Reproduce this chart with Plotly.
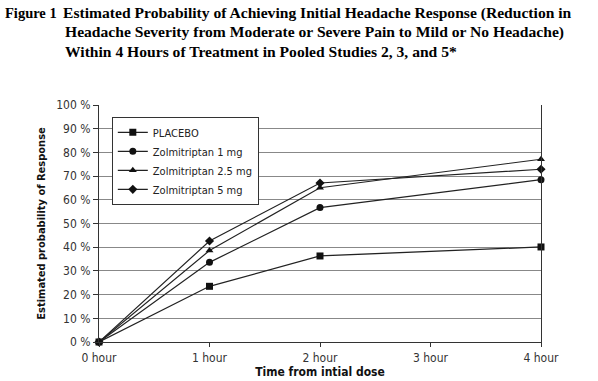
import plotly.graph_objects as go

hours = [0, 1, 2, 4]
tick_vals = [0, 1, 2, 3, 4]
tick_text = ["0 hour", "1 hour", "2 hour", "3 hour", "4 hour"]

placebo = [0, 23.5, 36.3, 40.1]
zolmi_1 = [0, 33.6, 56.7, 68.5]
zolmi_25 = [0, 38.6, 65.1, 77.1]
zolmi_5 = [0, 42.6, 67.1, 72.9]

series = [
    ("PLACEBO", placebo, "square"),
    ("Zolmitriptan 1 mg", zolmi_1, "circle"),
    ("Zolmitriptan 2.5 mg", zolmi_25, "triangle-up"),
    ("Zolmitriptan 5 mg", zolmi_5, "diamond"),
]

FONT = "Liberation Sans Narrow, Arial Narrow, DejaVu Sans Condensed, sans-serif"

fig = go.Figure()
for name, vals, sym in series:
    fig.add_trace(go.Scatter(
        x=hours, y=vals, name=name, mode="lines+markers",
        line=dict(color="#222222", width=1.2),
        marker=dict(symbol=sym, size=7, color="#111111"),
        cliponaxis=False,
    ))

ML, MR, MT, MB = 99, 57, 105, 39
fig.update_layout(
    width=598, height=381,
    margin=dict(l=ML, r=MR, t=MT, b=MB, autoexpand=False),
    paper_bgcolor="white", plot_bgcolor="white",
    font=dict(family=FONT, size=12, color="#222222"),
    showlegend=True,
    legend=dict(
        x=0.029, y=0.95, xanchor="left", yanchor="top",
        bgcolor="white", bordercolor="#333333", borderwidth=1,
        font=dict(family=FONT, size=11, color="#222222"),
        tracegroupgap=0,
    ),
    xaxis=dict(
        range=[0, 4], tickvals=tick_vals, ticktext=tick_text,
        showgrid=False, zeroline=False, automargin=False,
        showline=True, linecolor="#333333", linewidth=1.2,
        ticks="outside", ticklen=4, tickcolor="#333333",
        tickfont=dict(family=FONT, size=12, color="#333333"),
        title=dict(text="<b>Time from intial dose</b>", standoff=4,
                   font=dict(family=FONT, size=12, color="#111111")),
    ),
    yaxis=dict(
        range=[0, 100], dtick=10, ticksuffix=" %",
        showgrid=True, gridcolor="#888888", gridwidth=1.3,
        zeroline=False, automargin=False,
        showline=True, linecolor="#333333", linewidth=1.2, mirror=True,
        ticks="outside", ticklen=5, tickcolor="#333333",
        tickfont=dict(family=FONT, size=12, color="#333333"),
        title=dict(text="<b>Estimated probability of Response</b>", standoff=8,
                   font=dict(family=FONT, size=11, color="#111111")),
    ),
)

PH = 381 - MT - MB
PW = 598 - ML - MR
TFONT = dict(family="Liberation Serif, Times New Roman, serif", size=15.6, color="black")
fig.add_annotation(text="<b>Figure 1</b>", xref="paper", yref="paper",
                   x=(3 - ML) / PW, y=1 + (MT - 13) / PH, xanchor="left", yanchor="middle",
                   showarrow=False, font=dict(TFONT, size=14.5))
title_lines = [
    "Estimated Probability of Achieving Initial Headache Response (Reduction in",
    "Headache Severity from Moderate or Severe Pain to Mild or No Headache)",
    "Within 4 Hours of Treatment in Pooled Studies 2, 3, and 5*",
]
for i, (line, ypx) in enumerate(zip(title_lines, [13, 32, 51])):
    fig.add_annotation(text="<b>" + line + "</b>", xref="paper", yref="paper",
                       x=(61 - ML) / PW if i == 0 else (63 - ML) / PW,
                       y=1 + (MT - ypx) / PH, xanchor="left", yanchor="middle",
                       showarrow=False, font=TFONT)

fig.write_html("out.html", config={"displayModeBar": False},
               post_script="document.body.style.margin='0';")
